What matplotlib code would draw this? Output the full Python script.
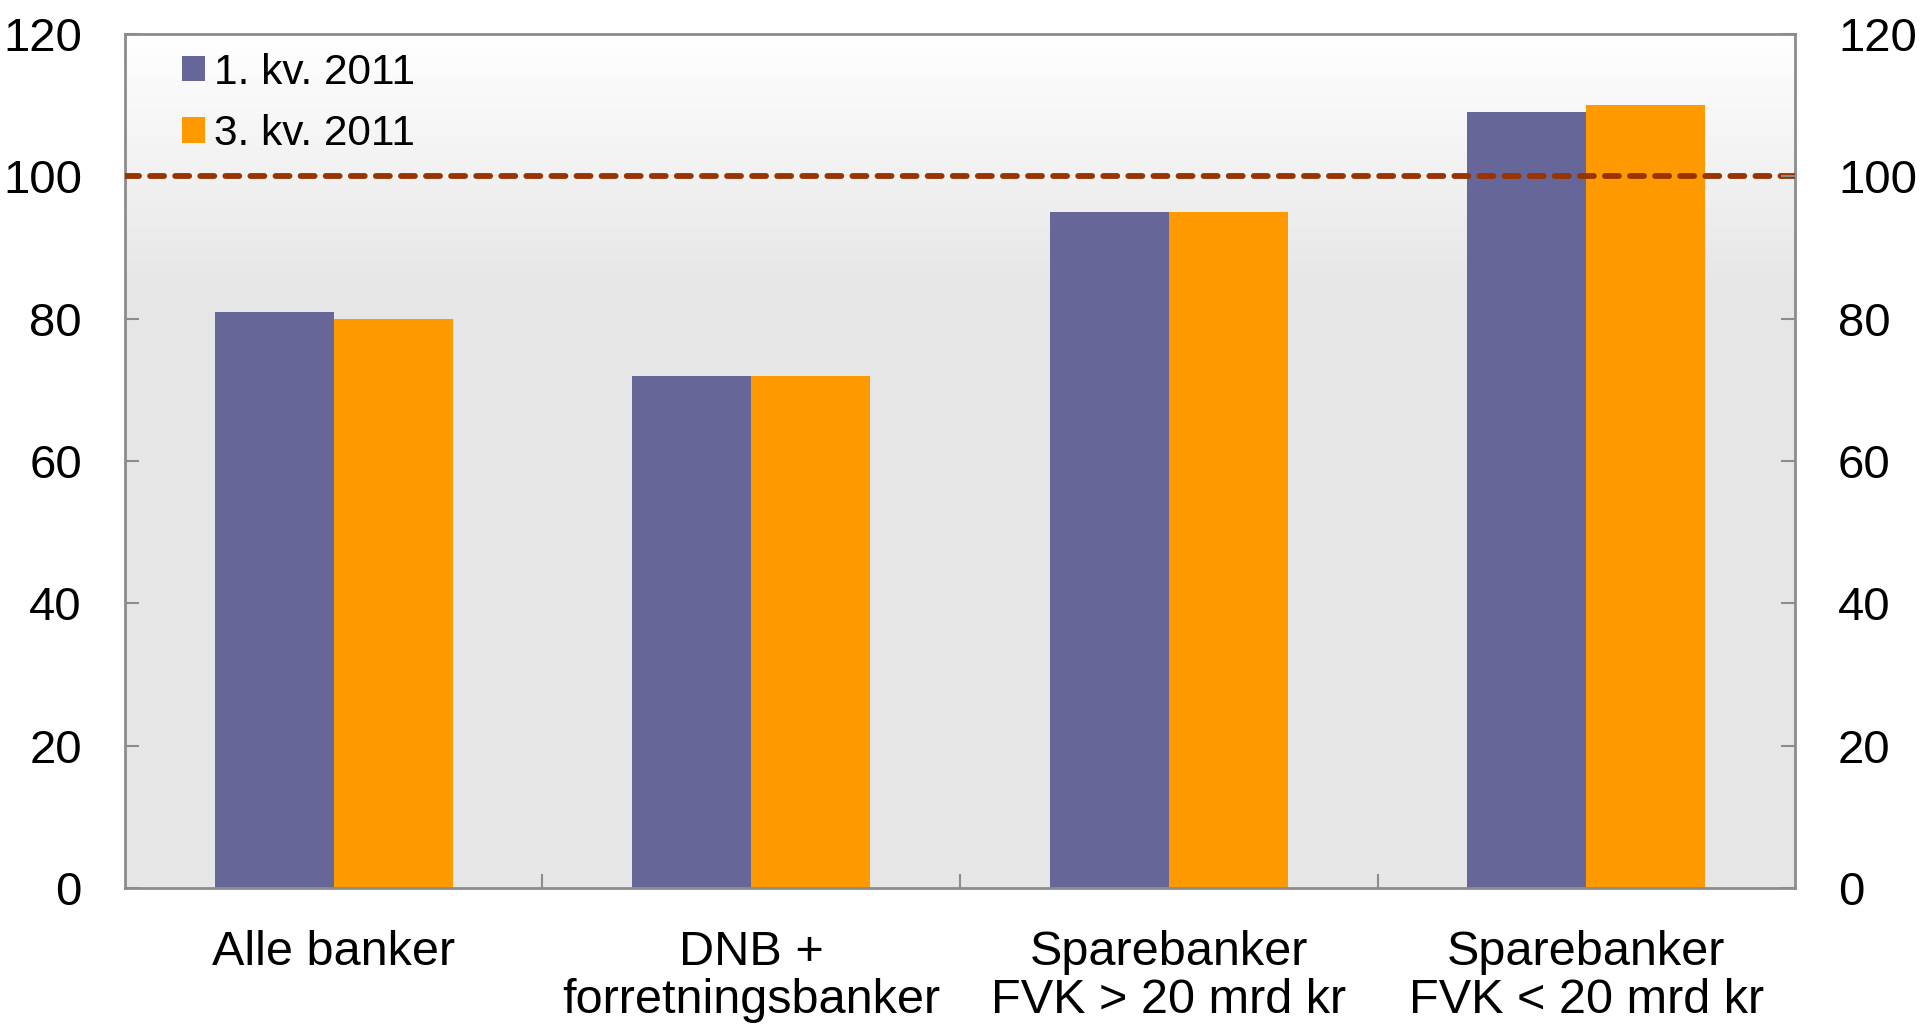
import matplotlib.pyplot as plt
import numpy as np
from matplotlib.colors import LinearSegmentedColormap

plt.rcParams['font.family'] = ['Liberation Sans', 'DejaVu Sans']

kategorier = ['Alle banker', 'DNB +\nforretningsbanker',
              'Sparebanker\nFVK > 20 mrd kr', 'Sparebanker\nFVK < 20 mrd kr']
kv1_2011 = [81, 72, 95, 109]
kv3_2011 = [80, 72, 95, 110]
serier = ['1. kv. 2011', '3. kv. 2011']
farger = ['#666699', '#ff9900']
y_ticks = [0, 20, 40, 60, 80, 100, 120]

fig = plt.figure(figsize=(19.2, 10.26), dpi=100)
ax = fig.add_axes([0.0651, 0.1345, 0.8698, 0.8324])

x = np.arange(len(kategorier))
bredde = 0.285

# bakgrunn: hvit øverst, går over i lys grå nedover
yy = np.linspace(0, 120, 241)
grad = np.clip((120 - yy) / 36, 0, 1)[:, None]
cmap = LinearSegmentedColormap.from_list('bg', ['#ffffff', '#e6e6e6'])
ax.imshow(grad, extent=(-0.5, 3.5, 0, 120), aspect='auto', cmap=cmap,
          zorder=0, origin='lower')

ax.bar(x - bredde / 2, kv1_2011, bredde, color=farger[0], label=serier[0], zorder=2)
ax.bar(x + bredde / 2, kv3_2011, bredde, color=farger[1], label=serier[1], zorder=2)

ax.axhline(100, color='#993300', lw=4.2, dashes=(2.4, 1.9),
           dash_capstyle='round', zorder=3)

ax.set_xlim(-0.5, 3.5)
ax.set_ylim(0, 120)
ax.set_yticks(y_ticks)
ax.set_xticks(x)
ax.set_xticklabels(kategorier, fontsize=35, linespacing=1.1)
ax.set_xticks([0.5, 1.5, 2.5], minor=True)
ax.tick_params(axis='x', which='major', length=0, pad=30)
ax.tick_params(axis='x', which='minor', direction='in', length=10,
               width=1.5, color='#8c8c8c')
ax.tick_params(axis='y', direction='in', length=10, width=1.5,
               color='#8c8c8c', labelsize=34, pad=31)

for s in ax.spines.values():
    s.set_color('#8c8c8c')
    s.set_linewidth(2)

ax2 = ax.twinx()
ax2.set_ylim(0, 120)
ax2.set_yticks(y_ticks)
ax2.tick_params(axis='y', direction='in', length=10, width=1.5,
                color='#8c8c8c', labelsize=34, pad=31)
for s in ax2.spines.values():
    s.set_visible(False)

ax.legend(loc='upper left', bbox_to_anchor=(0.019, 1.008), frameon=False,
          fontsize=30.5, handlelength=0.55, handleheight=0.55,
          handletextpad=0.2, labelspacing=0.5, borderaxespad=0.2)

fig.savefig('out.png', dpi=100)
